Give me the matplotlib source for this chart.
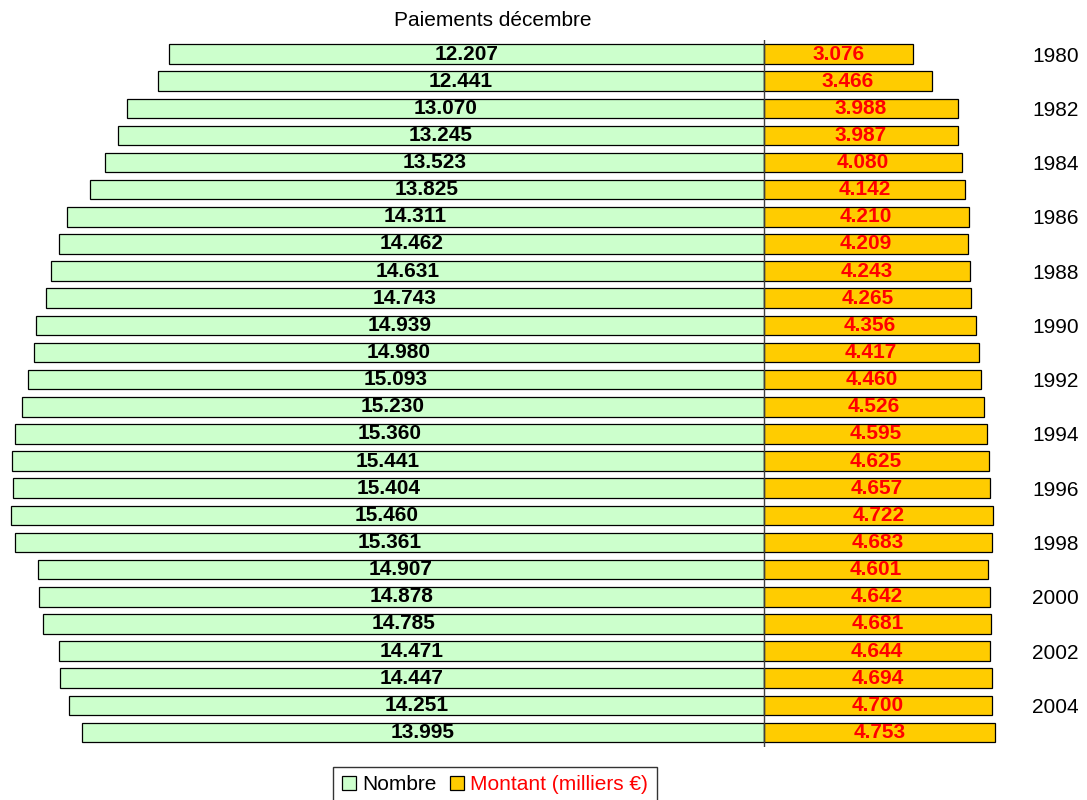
import matplotlib
matplotlib.use("Agg")
import matplotlib.pyplot as plt
from matplotlib.patches import Patch

# Monthly December payments, one row per year
years = list(range(1980, 2006))
nombre = [12.207, 12.441, 13.070, 13.245, 13.523, 13.825, 14.311, 14.462,
          14.631, 14.743, 14.939, 14.980, 15.093, 15.230, 15.360, 15.441,
          15.404, 15.460, 15.361, 14.907, 14.878, 14.785, 14.471, 14.447,
          14.251, 13.995]
montant = [3.076, 3.466, 3.988, 3.987, 4.080, 4.142, 4.210, 4.209,
           4.243, 4.265, 4.356, 4.417, 4.460, 4.526, 4.595, 4.625,
           4.657, 4.722, 4.683, 4.601, 4.642, 4.681, 4.644, 4.694,
           4.700, 4.753]
series_labels = ["Nombre", "Montant (milliers €)"]

plt.rcParams['font.family'] = ['Liberation Sans', 'DejaVu Sans']

W, H = 1087, 800
fig = plt.figure(figsize=(W / 100, H / 100), dpi=100)

# axes geometry (pixels)
ax_left, ax_right, ax_top, ax_bottom = 0, 1010, 40, 747
center_px = 763.5
px_per_unit = 48.7
row_pitch = 27.14
first_row_px = 54

ax = fig.add_axes([ax_left / W, 1 - ax_bottom / H,
                   (ax_right - ax_left) / W, (ax_bottom - ax_top) / H])
ax.set_xlim(-(center_px - ax_left) / px_per_unit, (ax_right - center_px) / px_per_unit)
top_lim = -(first_row_px - ax_top) / row_pitch
ax.set_ylim(top_lim + (ax_bottom - ax_top) / row_pitch, top_lim)

rows = list(range(len(years)))
left_bars = ax.barh(rows, [-v for v in nombre], height=0.72, color='#CCFFCC',
                    edgecolor='black', linewidth=0.9, zorder=2)
right_bars = ax.barh(rows, montant, height=0.72, color='#FFCC00',
                     edgecolor='black', linewidth=0.9, zorder=2)

ax.bar_label(left_bars, labels=[f"{v:.3f}" for v in nombre], label_type='center',
             fontsize=15, fontweight='bold', color='black')
ax.bar_label(right_bars, labels=[f"{v:.3f}" for v in montant], label_type='center',
             fontsize=15, fontweight='bold', color='#FF0000')

ax.axvline(0, color='#404040', linewidth=1, zorder=3)

ax.yaxis.tick_right()
ax.set_yticks(rows[::2])
ax.set_yticklabels([str(y) for y in years[::2]])
ax.tick_params(axis='y', length=0, pad=22 * 0.72, labelsize=15)
ax.set_xticks([])
for s in ax.spines.values():
    s.set_visible(False)

fig.text(493 / W, 1 - 20 / H, "Paiements décembre", ha='center', va='center',
         fontsize=15)

handles = [Patch(facecolor='#CCFFCC', edgecolor='black', linewidth=0.9),
           Patch(facecolor='#FFCC00', edgecolor='black', linewidth=0.9)]
leg = fig.legend(handles, series_labels, loc='upper center',
                 bbox_to_anchor=(495 / W, 1 - 767 / H), ncol=2, frameon=True,
                 fancybox=False, edgecolor='#333333', framealpha=1, fontsize=15,
                 handlelength=0.7, handleheight=0.7, handletextpad=0.3,
                 columnspacing=0.6, borderpad=0.4, borderaxespad=0)
leg.get_frame().set_linewidth(1)
leg.get_texts()[1].set_color('#FF0000')

fig.savefig("out.png", dpi=100)
